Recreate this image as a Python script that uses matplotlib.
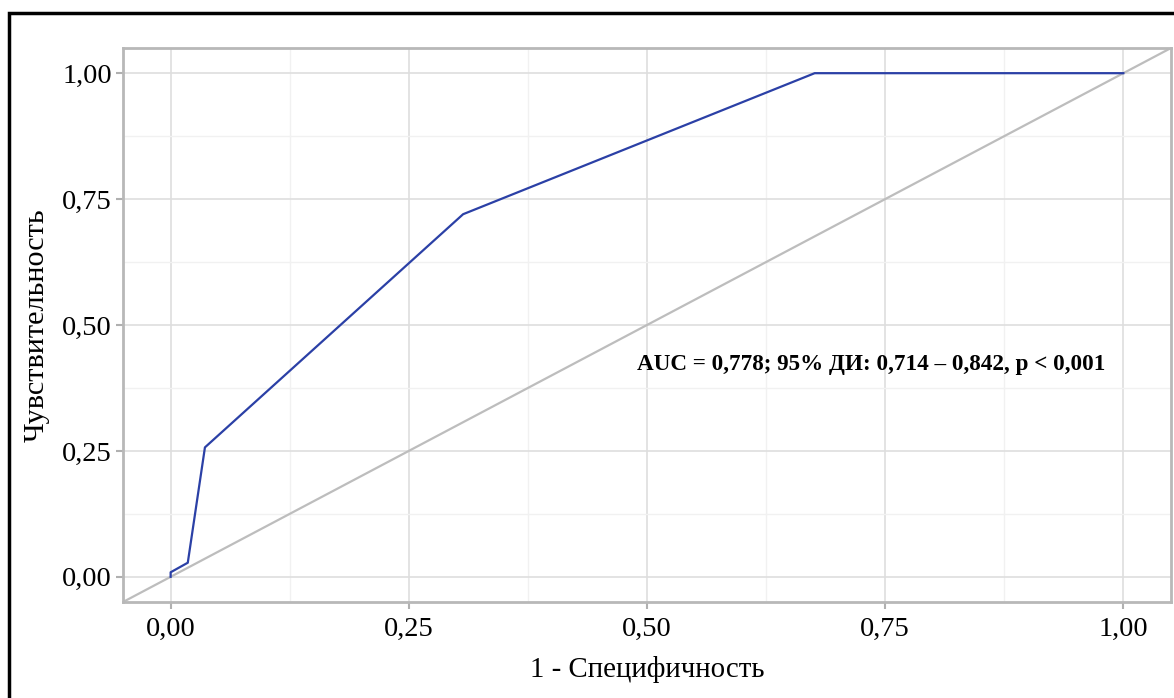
import numpy as np
import matplotlib.pyplot as plt
from matplotlib.patches import Rectangle

# ROC curve points
fpr = [0.0, 0.0, 0.018, 0.036, 0.307, 0.676, 1.0]
tpr = [0.0, 0.009, 0.028, 0.257, 0.720, 1.0, 1.0]
ticks = [0.0, 0.25, 0.5, 0.75, 1.0]
tick_labels = ['0,00', '0,25', '0,50', '0,75', '1,00']
auc_text = 'AUC = 0,778; 95% ДИ: 0,714 – 0,842, p < 0,001'

plt.rcParams['font.family'] = ['Liberation Serif', 'DejaVu Serif']

fig = plt.figure(figsize=(11.74, 6.98), dpi=100)
ax = fig.add_axes([123/1174, 1 - 602/698, (1171-123)/1174, (602-48)/698])

# outer black frame
fig.patches.append(Rectangle((9/1174, -0.01), 1.2, 1 - 13/698 + 0.01, transform=fig.transFigure,
                             fill=False, edgecolor='black', linewidth=2.5))

ax.set_xlim(-0.05, 1.05)
ax.set_ylim(-0.05, 1.05)
ax.set_xticks(ticks)
ax.set_xticklabels(tick_labels)
ax.set_yticks(ticks)
ax.set_yticklabels(tick_labels)
ax.set_xticks(np.arange(0.125, 1.0, 0.25), minor=True)
ax.set_yticks(np.arange(0.125, 1.0, 0.25), minor=True)
ax.grid(True, which='major', color='#dedede', lw=1.2)
ax.grid(True, which='minor', color='#f1f1f1', lw=1.0)
ax.set_axisbelow(True)
ax.tick_params(which='major', length=5, width=1.5, color='#b0b0b0', labelsize=20.5)
ax.tick_params(axis='x', pad=6)
ax.tick_params(axis='y', pad=3)
ax.tick_params(which='minor', length=0)
for s in ax.spines.values():
    s.set_color('#b8b8b8')
    s.set_linewidth(2)

ax.plot([-0.05, 1.05], [-0.05, 1.05], color='#bdbdbd', lw=1.6)
ax.plot(fpr, tpr, color='#2b40a6', lw=1.6)

ax.text(0.49, 0.422, auc_text, fontsize=16.7, fontweight='bold', va='center', ha='left')

ax.set_xlabel('1 - Специфичность', fontsize=20.8, labelpad=10)
ax.set_ylabel('Чувствительность', fontsize=21.8, labelpad=9)

fig.savefig('out.png', dpi=100)
